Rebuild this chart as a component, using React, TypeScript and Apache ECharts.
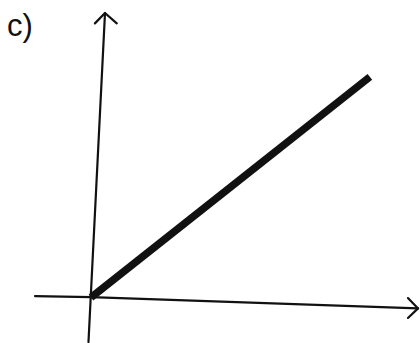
import React, { useEffect, useRef } from "react";
import * as echarts from "echarts";

// Sketch data (in the chart's own units; origin where the axes cross)
const mainLine: [number, number][] = [
  [0, 0],
  [9.96, 7.88],
];
const yAxisStroke: [number, number][] = [
  [-0.09, -1.59],
  [0.5, 10.16],
];
const yArrowHead: [number, number][] = [
  [0.14, 9.79],
  [0.5, 10.16],
  [0.92, 9.79],
];
const xAxisStroke: [number, number][] = [
  [-2.0, 0.05],
  [0, 0.01],
  [11.68, -0.39],
];
const xArrowHead: [number, number][] = [
  [11.32, -0.02],
  [11.68, -0.39],
  [11.32, -0.73],
];
const panelLabel = "c)";

export default function App() {
  const ref = useRef<HTMLDivElement>(null);
  useEffect(() => {
    if (!ref.current) return;
    const chart = echarts.init(ref.current, null, { renderer: "svg" });
    const strokeSeries = (data: [number, number][], width: number, cap: string) => ({
      type: "line",
      data,
      symbol: "none",
      silent: true,
      lineStyle: { color: "#111", width, cap, join: "round" },
    });
    chart.setOption({
      animation: false,
      backgroundColor: "#fff",
      grid: { left: 0, right: 0, top: 0, bottom: 0, containLabel: false },
      xAxis: {
        type: "value",
        min: -3.25,
        max: 11.75,
        show: false,
      },
      yAxis: {
        type: "value",
        min: -1.625,
        max: 10.625,
        show: false,
      },
      graphic: [
        {
          type: "text",
          left: 7,
          top: 10,
          style: {
            text: panelLabel,
            fontSize: 31,
            fontFamily: "Liberation Sans",
            fill: "#111",
          },
        },
      ],
      series: [
        strokeSeries(yAxisStroke, 2.2, "round"),
        strokeSeries(yArrowHead, 2.2, "round"),
        strokeSeries(xAxisStroke, 2.2, "round"),
        strokeSeries(xArrowHead, 2.2, "round"),
        strokeSeries(mainLine, 7.5, "butt"),
      ],
    });
    return () => chart.dispose();
  }, []);
  return (
    <div
      ref={ref}
      style={{ position: "fixed", left: 0, top: 0, width: 420, height: 343 }}
    />
  );
}
